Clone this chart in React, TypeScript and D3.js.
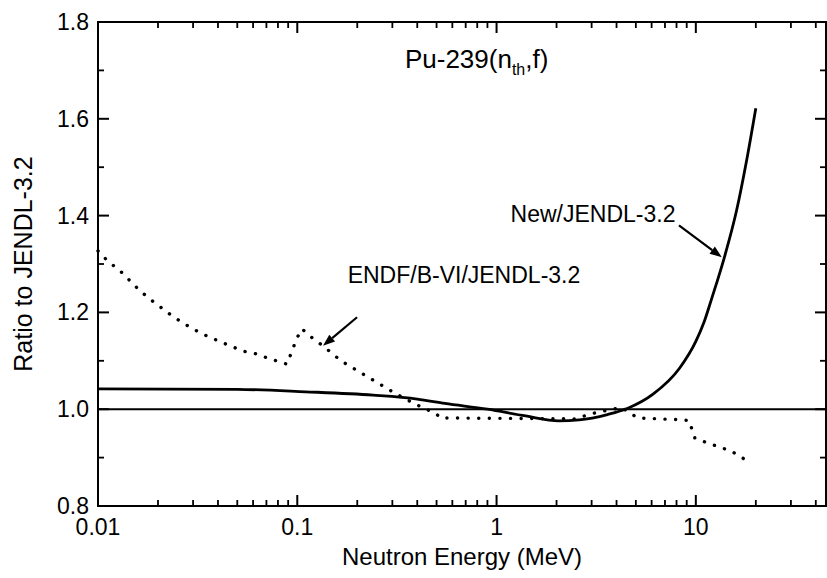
import React from "react";
import * as d3 from "d3";

// ---- data ----
const newEnergy = [0.01, 0.05, 0.11, 0.24, 0.4, 0.55, 0.9, 1.4, 2.05, 2.6, 3.6, 4.56, 6.1, 8.3, 10, 11, 12, 14, 16, 18, 20];
const newRatio = [1.042, 1.041, 1.036, 1.029, 1.021, 1.012, 1.0, 0.986, 0.976, 0.978, 0.989, 1.002, 1.031, 1.085, 1.14, 1.18, 1.228, 1.318, 1.41, 1.515, 1.622];

const endfEnergy = [0.01, 0.0112, 0.0129, 0.0163, 0.0187, 0.0235, 0.0267, 0.030, 0.0336, 0.0424, 0.0534, 0.0628, 0.0705, 0.0888, 0.0996, 0.1056, 0.1158, 0.1345, 0.1656, 0.209, 0.269, 0.309, 0.389, 0.5, 0.52, 2.5, 2.94, 3.8, 4.27, 5.1, 8.6, 9.3, 9.6, 9.9, 11.5, 13.5, 15, 17, 19.1];
const endfRatio = [1.327, 1.306, 1.286, 1.244, 1.224, 1.193, 1.178, 1.166, 1.155, 1.137, 1.120, 1.114, 1.106, 1.093, 1.147, 1.166, 1.151, 1.131, 1.100, 1.075, 1.048, 1.033, 1.011, 0.990, 0.982, 0.980, 0.990, 1.0, 1.003, 0.982, 0.978, 0.976, 0.955, 0.94, 0.930, 0.92, 0.914, 0.90, 0.889];

const unityEnergy = [0.01, 45];
const unityRatio = [1.0, 1.0];

const xMajorTicks = [0.01, 0.1, 1, 10];
const xTickLabels = ["0.01", "0.1", "1", "10"];
const yMajorTicks = [0.8, 1.0, 1.2, 1.4, 1.6, 1.8];
const yTickLabels = ["0.8", "1.0", "1.2", "1.4", "1.6", "1.8"];
const yMinorTicks = [0.9, 1.1, 1.3, 1.5, 1.7];

const W = 827;
const H = 578;
const FONT = "'Liberation Sans', Arial, Helvetica, sans-serif";

export default function App() {
  const x = d3.scaleLog().domain([0.01, 45]).range([98, 826]);
  const y = d3.scaleLinear().domain([0.8, 1.8]).range([506, 22]);
  const [x0, x1] = x.range();
  const [y0, y1] = y.range();

  const xMinor: number[] = [];
  for (const dec of [0.01, 0.1, 1, 10]) {
    for (let k = 2; k <= 9; k++) {
      const v = dec * k;
      if (v <= 45) xMinor.push(v);
    }
  }

  const line = d3
    .line<[number, number]>()
    .x((d) => x(d[0]))
    .y((d) => y(d[1]));
  const smooth = d3
    .line<[number, number]>()
    .x((d) => x(d[0]))
    .y((d) => y(d[1]))
    .curve(d3.curveMonotoneX);

  const newPts = newEnergy.map((e, i) => [e, newRatio[i]] as [number, number]);
  const endfPts = endfEnergy.map((e, i) => [e, endfRatio[i]] as [number, number]);
  const unityPts = unityEnergy.map((e, i) => [e, unityRatio[i]] as [number, number]);

  const arrow = (tx: number, ty: number, hx: number, hy: number) => {
    const ang = Math.atan2(hy - ty, hx - tx);
    const L = 12;
    const Wd = 4.5;
    const bx = hx - L * Math.cos(ang);
    const by = hy - L * Math.sin(ang);
    const px = -Math.sin(ang) * Wd;
    const py = Math.cos(ang) * Wd;
    return (
      <g>
        <line x1={tx} y1={ty} x2={bx} y2={by} stroke="#000" strokeWidth={2.2} />
        <polygon points={`${hx},${hy} ${bx + px},${by + py} ${bx - px},${by - py}`} fill="#000" />
      </g>
    );
  };

  return (
    <svg width={W} height={H} style={{ position: "absolute", left: 0, top: 0, background: "#fff" }}>
      <rect x={0} y={0} width={W} height={H} fill="#fff" />
      {/* frame */}
      <rect x={x0} y={y1} width={x1 - x0} height={y0 - y1} fill="none" stroke="#000" strokeWidth={2} />

      {/* x ticks */}
      {xMajorTicks.map((t) => (
        <g key={"xm" + t}>
          <line x1={x(t)} x2={x(t)} y1={y0} y2={y0 - 11} stroke="#000" strokeWidth={2} />
          <line x1={x(t)} x2={x(t)} y1={y1} y2={y1 + 11} stroke="#000" strokeWidth={2} />
        </g>
      ))}
      {xMinor.map((t) => (
        <g key={"xn" + t}>
          <line x1={x(t)} x2={x(t)} y1={y0} y2={y0 - 6} stroke="#000" strokeWidth={1.8} />
          <line x1={x(t)} x2={x(t)} y1={y1} y2={y1 + 6} stroke="#000" strokeWidth={1.8} />
        </g>
      ))}
      {xMajorTicks.map((t, i) => (
        <text key={"xl" + t} x={x(t)} y={535} textAnchor="middle" fontFamily={FONT} fontSize={23}>
          {xTickLabels[i]}
        </text>
      ))}

      {/* y ticks */}
      {yMajorTicks.map((t) => (
        <g key={"ym" + t}>
          <line x1={x0} x2={x0 + 11} y1={y(t)} y2={y(t)} stroke="#000" strokeWidth={2} />
          <line x1={x1} x2={x1 - 11} y1={y(t)} y2={y(t)} stroke="#000" strokeWidth={2} />
        </g>
      ))}
      {yMinorTicks.map((t) => (
        <g key={"yn" + t}>
          <line x1={x0} x2={x0 + 6} y1={y(t)} y2={y(t)} stroke="#000" strokeWidth={1.8} />
          <line x1={x1} x2={x1 - 6} y1={y(t)} y2={y(t)} stroke="#000" strokeWidth={1.8} />
        </g>
      ))}
      {yMajorTicks.map((t, i) => (
        <text key={"yl" + t} x={89} y={y(t) + 8} textAnchor="end" fontFamily={FONT} fontSize={23}>
          {yTickLabels[i]}
        </text>
      ))}

      {/* axis titles */}
      <text x={(x0 + x1) / 2} y={565} textAnchor="middle" fontFamily={FONT} fontSize={24}>
        Neutron Energy (MeV)
      </text>
      <text
        transform={`translate(32, ${(y0 + y1) / 2}) rotate(-90)`}
        textAnchor="middle"
        fontFamily={FONT}
        fontSize={25}
      >
        Ratio to JENDL-3.2
      </text>

      {/* chart title */}
      <text x={x(0.347)} y={y(1.705)} fontFamily={FONT} fontSize={26}>
        Pu-239(n
        <tspan fontSize={16} dy={7}>th</tspan>
        <tspan dy={-7}>,f)</tspan>
      </text>

      {/* lines */}
      <path d={line(unityPts) || ""} fill="none" stroke="#000" strokeWidth={2} />
      <path d={smooth(newPts) || ""} fill="none" stroke="#000" strokeWidth={2.8} />
      <path
        d={line(endfPts) || ""}
        fill="none"
        stroke="#000"
        strokeWidth={3.4}
        strokeLinecap="round"
        strokeDasharray="0.1 10.5"
      />

      {/* annotations */}
      <text x={x(0.179)} y={y(1.261)} fontFamily={FONT} fontSize={23}>
        ENDF/B-VI/JENDL-3.2
      </text>
      {arrow(x(0.1995), y(1.19), x(0.1346), y(1.131))}
      <text x={x(7.9)} y={y(1.387)} textAnchor="end" fontFamily={FONT} fontSize={23}>
        New/JENDL-3.2
      </text>
      {arrow(x(8.23), y(1.38), x(13.5), y(1.314))}
    </svg>
  );
}
